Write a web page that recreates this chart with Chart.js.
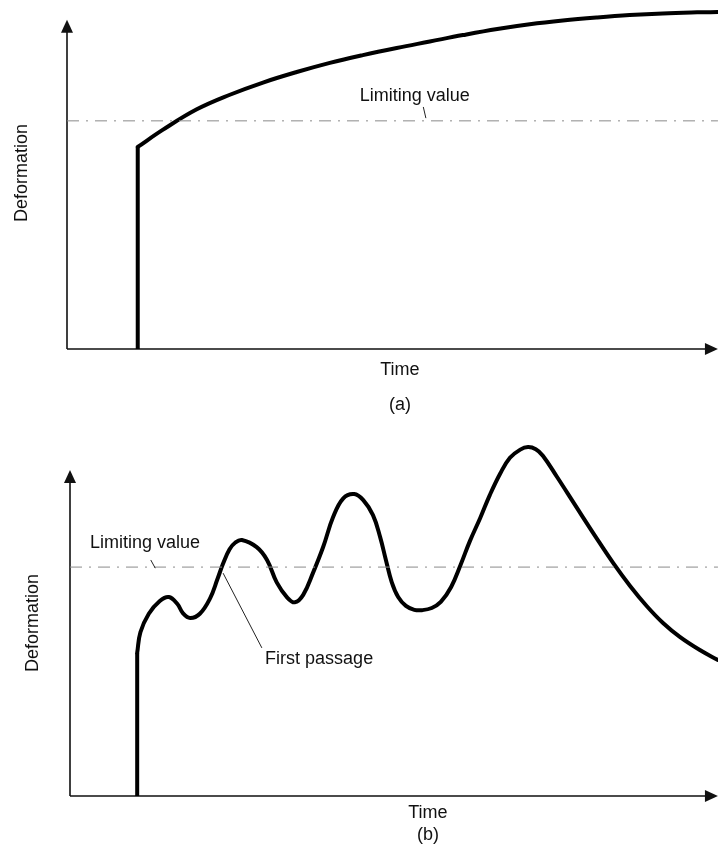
<!DOCTYPE html>
<html>
<head>
<meta charset="utf-8">
<script src="https://cdn.jsdelivr.net/npm/chart.js@4.4.0/dist/chart.umd.min.js"></script>
<style>
  body { margin: 0; background: #fff; }
  .panel { position: absolute; left: 0; }
</style>
</head>
<body>
<div class="panel" style="top:0px"><canvas id="chartA" width="718" height="430"></canvas></div>
<div class="panel" style="top:430px"><canvas id="chartB" width="718" height="427"></canvas></div>
<script>
// панель (a) - монотонный рост деформации
const riseTimeA = [10.9, 10.9];
const riseDefA = [0, 59.6];
const timeA = [10.9, 14.8, 20.0, 25.1, 30.2, 35.4, 40.5, 45.6, 50.8, 55.9,
    61.0, 66.3, 71.3, 76.4, 81.7, 86.7, 91.8, 97.1, 100.3];
const deformA = [59.6, 64.7, 70.7, 75.0, 78.6, 81.7, 84.4, 86.7, 88.8, 90.7,
    92.6, 94.4, 95.8, 96.9, 97.8, 98.5, 99.0, 99.3, 99.4];
const limitA = 67.3;

// панель (b) - колебания, первое пересечение
const riseTimeB = [10.4, 10.4];
const riseDefB = [0, 40.2];
const timeB = [10.4, 10.9, 12.2, 13.9, 15.3, 16.6, 17.5, 18.6, 20.1, 21.7, 22.8, 23.7,
    24.7, 25.6, 26.6, 28.9, 30.5, 32.0, 33.6, 34.8, 36.1, 37.6, 39.2, 40.7, 42.3, 44.0,
    45.4, 46.9, 48.0, 48.9, 49.8, 50.8, 52.0, 53.3, 54.5, 56.0, 57.4, 59.0, 60.5,
    61.9, 63.5, 65.0, 66.6, 68.1, 69.7, 70.9, 72.1, 73.2, 75.4, 78.2, 81.3, 84.1,
    86.7, 89.3, 91.8, 94.4, 97.5, 100.3];
const deformB = [40.2, 46.0, 51.2, 54.8, 55.9, 54.0, 51.3, 50.0, 51.2, 55.6, 60.8, 65.3,
    69.3, 71.2, 71.9, 69.9, 66.3, 60.0, 55.8, 54.4, 56.5, 62.6, 70.0, 78.2, 83.6, 84.8,
    83.1, 78.9, 72.8, 66.3, 60.1, 55.9, 53.4, 52.3, 52.2, 52.8, 54.5, 58.7, 65.1,
    71.6, 78.1, 84.6, 90.6, 95.0, 97.3, 98.0, 97.4, 95.6, 89.6, 81.7, 73.0, 65.4,
    59.0, 53.3, 48.6, 44.7, 41.0, 38.2];
const limitB = 64.3;

const limitSpan = [0, 100.3];
const FONT = '18px "Liberation Sans", Arial, sans-serif';

function pts(xs, ys) {
    return xs.map((x, i) => ({x: x, y: ys[i]}));
}

// оси со стрелками
const axisArrows = {
    id: 'axisArrows',
    beforeDatasetsDraw(chart, args, opts) {
        const ctx = chart.ctx;
        const x = chart.scales.x, y = chart.scales.y;
        const x0 = x.getPixelForValue(0), y0 = y.getPixelForValue(0);
        const xEnd = x.getPixelForValue(opts.xEnd);
        const yTop = y.getPixelForValue(opts.yTop);
        ctx.save();
        ctx.strokeStyle = '#111';
        ctx.fillStyle = '#111';
        ctx.lineWidth = 1.6;
        ctx.beginPath();
        ctx.moveTo(x0, y0);
        ctx.lineTo(x0, yTop + 10);
        ctx.moveTo(x0, y0);
        ctx.lineTo(xEnd - 10, y0);
        ctx.stroke();
        ctx.beginPath();
        ctx.moveTo(x0, yTop);
        ctx.lineTo(x0 - 6, yTop + 13);
        ctx.lineTo(x0 + 6, yTop + 13);
        ctx.closePath();
        ctx.fill();
        ctx.beginPath();
        ctx.moveTo(xEnd, y0);
        ctx.lineTo(xEnd - 13, y0 - 6);
        ctx.lineTo(xEnd - 13, y0 + 6);
        ctx.closePath();
        ctx.fill();
        ctx.restore();
    }
};

// подписи и выноски
const labelsPlugin = {
    id: 'labelsPlugin',
    afterDraw(chart, args, opts) {
        const ctx = chart.ctx;
        const x = chart.scales.x, y = chart.scales.y;
        const x0 = x.getPixelForValue(0), y0 = y.getPixelForValue(0);
        ctx.save();
        ctx.font = FONT;
        ctx.fillStyle = '#111';
        ctx.textBaseline = 'middle';
        (opts.notes || []).forEach(n => {
            ctx.textAlign = n.align || 'left';
            ctx.fillText(n.text, x.getPixelForValue(n.x), y.getPixelForValue(n.y));
        });
        ctx.strokeStyle = '#222';
        ctx.lineWidth = 1;
        (opts.leaders || []).forEach(l => {
            ctx.beginPath();
            ctx.moveTo(x.getPixelForValue(l[0]), y.getPixelForValue(l[1]));
            ctx.lineTo(x.getPixelForValue(l[2]), y.getPixelForValue(l[3]));
            ctx.stroke();
        });
        // Time, (a)/(b)
        ctx.textAlign = 'center';
        ctx.fillText('Time', x.getPixelForValue(opts.timeX), y0 + opts.timeDy);
        ctx.fillText(opts.tag, x.getPixelForValue(opts.timeX), y0 + opts.tagDy);
        // Deformation вертикально
        ctx.translate(x0 - opts.defDx, y.getPixelForValue(opts.defY));
        ctx.rotate(-Math.PI / 2);
        ctx.fillText('Deformation', 0, 0);
        ctx.restore();
    }
};

function makeChart(id, rise, curve, limit, pad, plugOpts) {
    return new Chart(document.getElementById(id), {
        type: 'line',
        data: {
            datasets: [{
                data: pts(limitSpan, [limit, limit]),
                borderColor: '#8a8a8a',
                borderWidth: 1,
                borderDash: [12, 7, 2, 7],
                pointRadius: 0,
                clip: false
            }, {
                data: rise,
                borderColor: '#000',
                borderWidth: 4,
                pointRadius: 0,
                clip: false
            }, {
                data: curve,
                borderColor: '#000',
                borderWidth: 4,
                pointRadius: 0,
                tension: 0.4,
                borderCapStyle: 'round',
                borderJoinStyle: 'round',
                clip: false
            }]
        },
        options: {
            responsive: false,
            animation: false,
            devicePixelRatio: 1,
            layout: {padding: pad},
            plugins: {
                legend: {display: false},
                tooltip: {enabled: false},
                axisArrows: {xEnd: 100.3, yTop: plugOpts.yTop},
                labelsPlugin: plugOpts
            },
            scales: {
                x: {type: 'linear', min: 0, max: 100, display: false},
                y: {type: 'linear', min: 0, max: 100, display: false}
            }
        },
        plugins: [axisArrows, labelsPlugin]
    });
}

const chartA = makeChart('chartA',
    pts(riseTimeA, riseDefA), pts(timeA, deformA), limitA,
    {left: 67, right: 2, top: 10, bottom: 81},
    {
        yTop: 97.1,
        notes: [{text: 'Limiting value', x: 45.1, y: 74.6}],
        leaders: [[54.9, 71.4, 55.3, 68.1]],
        timeX: 51.3, timeDy: 21, tagDy: 56, tag: '(a)',
        defDx: 45, defY: 51.9
    });

const chartB = makeChart('chartB',
    pts(riseTimeB, riseDefB), pts(timeB, deformB), limitB,
    {left: 70, right: 2, top: 10, bottom: 61},
    {
        yTop: 91.6,
        notes: [{text: 'Limiting value', x: 11.6, y: 71.1, align: 'center'},
                {text: 'First passage', x: 30.2, y: 38.5}],
        leaders: [[12.5, 66.3, 13.2, 64.0], [23.7, 62.6, 29.7, 41.6]],
        timeX: 55.4, timeDy: 17, tagDy: 39, tag: '(b)',
        defDx: 37, defY: 48.6
    });
</script>
</body>
</html>
